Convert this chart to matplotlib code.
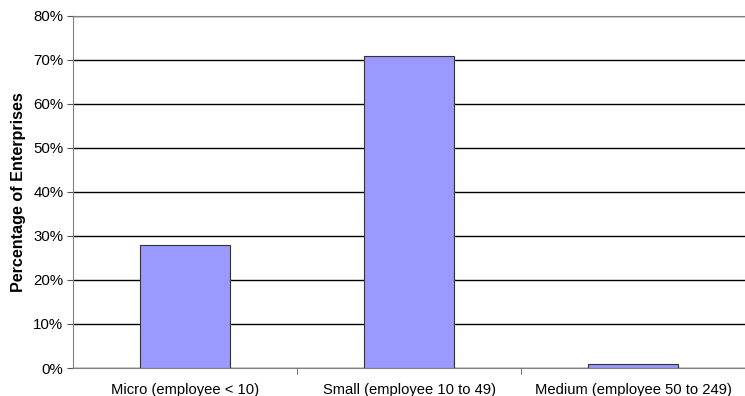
import matplotlib.pyplot as plt
from matplotlib.ticker import FixedLocator, PercentFormatter
import numpy as np

categories = ["Micro (employee < 10)", "Small (employee 10 to 49)", "Medium (employee 50 to 249)"]
shares = [28, 71, 1]
y_ticks = [0, 10, 20, 30, 40, 50, 60, 70, 80]

plt.rcParams["font.family"] = ["Liberation Sans", "DejaVu Sans"]

fig = plt.figure(figsize=(7.45, 3.96), dpi=100)
ax = fig.add_axes([0.098, 0.0707, 0.902, 0.889])

x = np.arange(len(categories))
ax.bar(x, shares, width=0.40, color="#9999FF", edgecolor="#333333", linewidth=0.8, zorder=3)

ax.set_xlim(-0.5, len(categories) - 0.5)
ax.set_ylim(0, 80)
ax.set_yticks(y_ticks)
ax.yaxis.set_major_formatter(PercentFormatter(decimals=0))
ax.yaxis.grid(True, color="black", linewidth=1.0, zorder=0)
ax.set_axisbelow(True)

# category labels centred, tick marks between categories
ax.set_xticks(x)
ax.set_xticklabels(categories, fontsize=10.6)
ax.tick_params(axis="x", length=0, pad=11)
ax.xaxis.set_minor_locator(FixedLocator(np.arange(0.5, len(categories) - 0.5)))
ax.tick_params(axis="x", which="minor", length=4, color="#555555")
ax.tick_params(axis="y", labelsize=10.8, length=4, color="#555555", pad=3)

for side in ["left", "bottom", "top"]:
    ax.spines[side].set_color("#808080")
ax.spines["right"].set_visible(False)

ax.set_ylabel("Percentage of Enterprises", fontsize=11.6, fontweight="bold", labelpad=5)

fig.savefig("out.png", dpi=100)
